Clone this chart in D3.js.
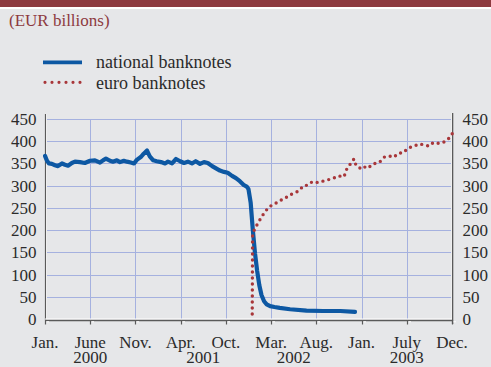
<!DOCTYPE html>
<html>
<head>
<meta charset="utf-8">
<script src="https://cdn.jsdelivr.net/npm/d3@7"></script>
<style>
  html, body { margin: 0; padding: 0; background: #e6e7e9; }
  svg { display: block; }
  text { font-family: "Liberation Serif", "Times New Roman", serif; }
</style>
</head>
<body>
<svg id="chart" width="491" height="367"></svg>
<script>
// ---- data (month index: 0 = Jan. 2000, 47 = Dec. 2003) ----
const title = "(EUR billions)";
const seriesNames = ["national banknotes", "euro banknotes"];
const monthTickLabels = ["Jan.", "June", "Nov.", "Apr.", "Oct.", "Mar.", "Aug.", "Jan.", "July", "Dec."];
const yearLabels = ["2000", "2001", "2002", "2003"];
const yearLabelTickPos = [1, 3.5, 5.5, 8];
const yTicks = [0, 50, 100, 150, 200, 250, 300, 350, 400, 450];

const nationalMonth = [0, 0.23, 0.46, 0.8, 1.15, 1.5, 1.96, 2.3, 2.66, 3.1, 3.46, 4.04, 4.6, 5.2, 5.77, 6.35, 6.7, 7.04, 7.5, 7.85, 8.3, 8.66, 9.1, 9.47, 9.9, 10.28, 10.6, 11.1, 11.4, 11.78, 12.1, 12.5, 12.9, 13.4, 13.86, 14.2, 14.67, 15.13, 15.6, 16.05, 16.5, 16.97, 17.4, 17.9, 18.36, 18.8, 19.3, 19.75, 20.2, 20.67, 21.1, 21.6, 22.05, 22.5, 22.98, 23.3, 23.5, 23.75, 24.0, 24.25, 24.5, 24.75, 25.0, 25.3, 25.6, 26.0, 26.5, 27.1, 28.3, 30.2, 32.1, 34.1, 35.8];
const nationalValue = [367, 356, 350, 349, 346, 344, 350, 347, 345, 351, 354, 353, 351, 356, 357, 352, 357, 361, 356, 354, 357, 353, 356, 354, 352, 350, 358, 365, 372, 379, 366, 357, 355, 353, 350, 354, 350, 360, 355, 351, 354, 350, 355, 349, 353, 351, 344, 339, 334, 331, 329, 322, 317, 310, 301, 298, 292, 262, 200, 148, 108, 76, 54, 40, 33, 29, 27, 25, 22, 19, 18, 18, 16];

const euroMonth = [23.93, 23.97, 24.25, 24.63, 25.02, 25.4, 25.9, 26.48, 27.02, 27.63, 28.2, 28.79, 29.36, 29.83, 30.33, 30.87, 31.56, 32.07, 32.64, 33.22, 33.87, 34.53, 34.84, 35.3, 35.68, 35.91, 36.57, 37.03, 37.33, 37.9, 38.6, 39.15, 39.69, 40.27, 40.8, 41.37, 41.95, 42.53, 43.19, 43.73, 44.38, 44.84, 45.53, 46.19, 46.77, 47.15];
const euroValue = [0, 190, 204, 217, 230, 241, 253, 258, 266, 270, 279, 283, 289, 300, 301, 309, 307, 310, 313, 316, 322, 320, 337, 350, 360, 346, 337, 343, 340, 349, 352, 364, 367, 364, 373, 374, 385, 388, 394, 392, 389, 397, 395, 399, 409, 421];

// ---- layout ----
const svg = d3.select("#chart");
const W = 491, H = 367;
const pLeft = 45, pRight = 452, pTop = 119, pBottom = 319;
const blue = "#0d58a3", red = "#a8373a", grid = "#a5b1df", axisGray = "#5a5a5a";

svg.append("rect").attr("width", W).attr("height", H).attr("fill", "#e6e7e9");
svg.append("rect").attr("width", W).attr("height", 7).attr("fill", "#8d3a3f");
svg.append("rect").attr("y", 7).attr("width", W).attr("height", 2).attr("fill", "#ffffff");

svg.append("text").attr("x", 9).attr("y", 25.5)
  .attr("font-size", 17).attr("fill", "#8d3a3f").text(title);

// legend
svg.append("line").attr("x1", 43).attr("x2", 82).attr("y1", 62.3).attr("y2", 62.3)
  .attr("stroke", blue).attr("stroke-width", 3.8);
svg.append("text").attr("x", 96).attr("y", 68).attr("font-size", 18).attr("fill", "#2b2b2b").text(seriesNames[0]);
svg.append("line").attr("x1", 45).attr("x2", 82).attr("y1", 82.3).attr("y2", 82.3)
  .attr("stroke", red).attr("stroke-width", 3.2).attr("stroke-linecap", "round")
  .attr("stroke-dasharray", "0 7");
svg.append("text").attr("x", 96).attr("y", 88.5).attr("font-size", 18).attr("fill", "#2b2b2b").text(seriesNames[1]);

// scales
const x = d3.scaleLinear().domain([0, 47]).range([pLeft, pRight]);
const y = d3.scaleLinear().domain([0, 450]).range([pBottom, pTop]);
const tickPos = i => x(i * 47 / 9);

// grid
const g = svg.append("g");
g.selectAll("line.h").data(yTicks.filter(v => v > 0)).join("line")
  .attr("x1", pLeft).attr("x2", pRight)
  .attr("y1", d => Math.round(y(d)) + 0.5).attr("y2", d => Math.round(y(d)) + 0.5)
  .attr("stroke", grid).attr("stroke-width", 1);
g.selectAll("line.v").data(d3.range(1, 9)).join("line")
  .attr("x1", d => Math.round(tickPos(d)) + 0.5).attr("x2", d => Math.round(tickPos(d)) + 0.5)
  .attr("y1", pTop).attr("y2", pBottom)
  .attr("stroke", grid).attr("stroke-width", 1);

// axes frame
svg.append("line").attr("x1", pLeft + 1.5).attr("x2", pLeft + 1.5).attr("y1", pTop - 5).attr("y2", pBottom).attr("stroke", "#fff").attr("stroke-width", 1);
svg.append("line").attr("x1", pLeft + 0.5).attr("x2", pLeft + 0.5).attr("y1", pTop - 5).attr("y2", pBottom + 1).attr("stroke", axisGray).attr("stroke-width", 1.2);
svg.append("line").attr("x1", pRight - 0.5).attr("x2", pRight - 0.5).attr("y1", pTop - 6).attr("y2", pBottom).attr("stroke", "#fff").attr("stroke-width", 1);
svg.append("line").attr("x1", pRight + 0.6).attr("x2", pRight + 0.6).attr("y1", pTop - 6).attr("y2", pBottom + 5).attr("stroke", axisGray).attr("stroke-width", 1.4);
svg.append("line").attr("x1", pLeft).attr("x2", pRight).attr("y1", pBottom + 0.2).attr("y2", pBottom + 0.2).attr("stroke", "#fff").attr("stroke-width", 1.2);
svg.append("line").attr("x1", pLeft).attr("x2", pRight + 1).attr("y1", pBottom + 1.5).attr("y2", pBottom + 1.5).attr("stroke", axisGray).attr("stroke-width", 1.4);
svg.selectAll("line.tk").data(d3.range(0, 10)).join("line")
  .attr("x1", d => Math.round(tickPos(d)) + 0.5).attr("x2", d => Math.round(tickPos(d)) + 0.5)
  .attr("y1", pBottom + 1).attr("y2", pBottom + 5.5)
  .attr("stroke", axisGray).attr("stroke-width", 1.2);
svg.selectAll("line.tkw").data(d3.range(0, 10)).join("line")
  .attr("x1", d => Math.round(tickPos(d)) + 1.5).attr("x2", d => Math.round(tickPos(d)) + 4)
  .attr("y1", pBottom + 2.8).attr("y2", pBottom + 2.8)
  .attr("stroke", "#fff").attr("stroke-width", 1);

// y labels
svg.selectAll("text.yl").data(yTicks).join("text")
  .attr("x", 36.5).attr("y", d => y(d)).attr("dy", "0.35em")
  .attr("text-anchor", "end").attr("font-size", 17).attr("fill", "#2b2b2b").text(d => d);
svg.selectAll("text.yr").data(yTicks).join("text")
  .attr("x", 462.5).attr("y", d => y(d)).attr("dy", "0.35em")
  .attr("text-anchor", "start").attr("font-size", 17).attr("fill", "#2b2b2b").text(d => d);

// x labels
svg.selectAll("text.xl").data(monthTickLabels).join("text")
  .attr("x", (d, i) => tickPos(i)).attr("y", 347.5)
  .attr("text-anchor", "middle").attr("font-size", 17).attr("fill", "#2b2b2b").text(d => d);
svg.selectAll("text.yr2").data(yearLabels).join("text")
  .attr("x", (d, i) => tickPos(yearLabelTickPos[i])).attr("y", 363.3)
  .attr("text-anchor", "middle").attr("font-size", 17).attr("fill", "#2b2b2b").text(d => d);

// series
const line = d3.line().x(d => x(d[0])).y(d => y(d[1])).curve(d3.curveLinear);
svg.append("path").datum(nationalMonth.map((m, i) => [m, nationalValue[i]]))
  .attr("d", line).attr("fill", "none").attr("stroke", blue)
  .attr("stroke-width", 4.2).attr("stroke-linejoin", "round").attr("stroke-linecap", "round");
svg.append("path").datum(euroMonth.map((m, i) => [m, euroValue[i]]))
  .attr("d", line).attr("fill", "none").attr("stroke", red)
  .attr("stroke-width", 3.4).attr("stroke-linecap", "round")
  .attr("stroke-dasharray", "0 6").attr("stroke-dashoffset", -5);
</script>
</body>
</html>
